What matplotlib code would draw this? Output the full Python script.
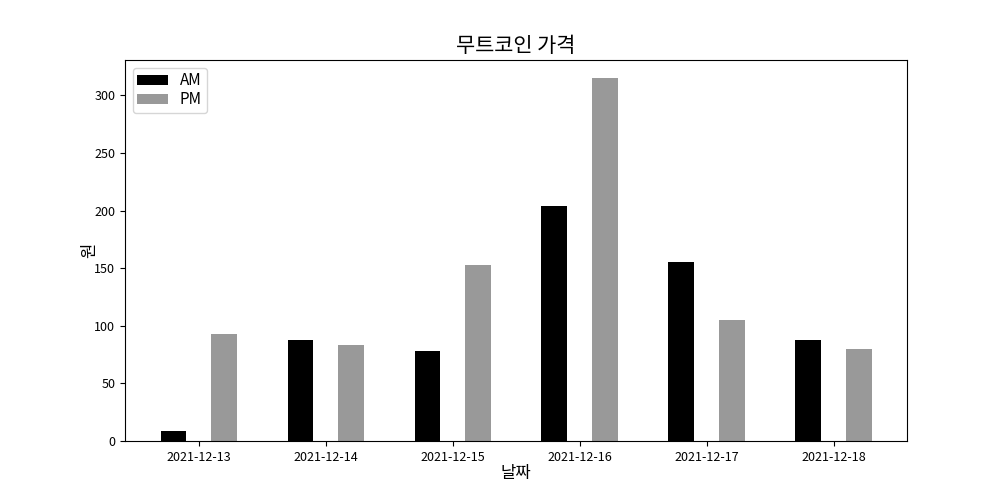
import matplotlib
matplotlib.use("Agg")
import matplotlib.pyplot as plt
import numpy as np

plt.rcParams['font.family'] = ['Noto Sans CJK KR', 'DejaVu Sans']
plt.rcParams['axes.unicode_minus'] = False

dates = ['2021-12-13', '2021-12-14', '2021-12-15', '2021-12-16', '2021-12-17', '2021-12-18']
am_values = [9, 88, 78, 204, 155, 88]
pm_values = [93, 83, 153, 315, 105, 80]

fig, ax = plt.subplots(figsize=(10.08, 5.04), dpi=100)
fig.subplots_adjust(left=0.124, right=0.9, top=0.881, bottom=0.125)

x = np.arange(len(dates))
w = 0.2
ax.bar(x - w, am_values, width=w, color='black', label='AM')
ax.bar(x + w, pm_values, width=w, color='#999999', label='PM')
ax.set_xticks(x)
ax.set_xticklabels(dates, fontsize=9)
ax.tick_params(axis='y', labelsize=9)
ax.set_title('무트코인 가격', fontsize=15)
ax.set_xlabel('날짜', fontsize=12, labelpad=1)
ax.set_ylabel('원', fontsize=12, labelpad=-3)
ax.legend(loc='upper left', fontsize=11, labelspacing=0.15,
          handlelength=2.0, borderaxespad=0.5, borderpad=0.3)

fig.savefig('out.png', dpi=100)
